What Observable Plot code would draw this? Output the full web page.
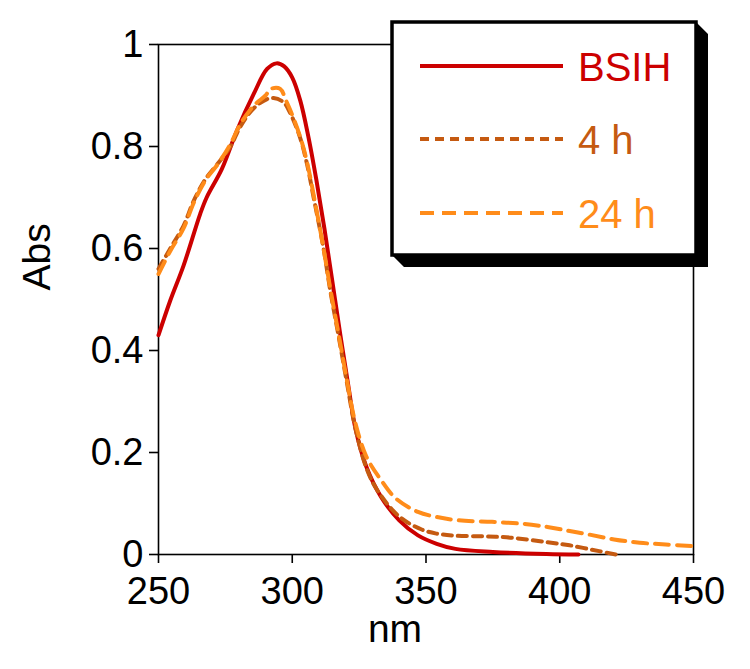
<!DOCTYPE html>
<html>
<head>
<meta charset="utf-8">
<script src="https://cdn.jsdelivr.net/npm/d3@7"></script>
<script src="https://cdn.jsdelivr.net/npm/@observablehq/plot@0.6"></script>
<style>
  html, body { margin: 0; padding: 0; background: white; }
  #chart svg { display: block; }
</style>
</head>
<body>
<div id="chart"></div>
<script>
// ---- data ----
const seriesNames = ["BSIH", "4 h", "24 h"];
const seriesColors = ["#cc0000", "#c55a11", "#ff8c1a"];

const bsihWl  = [250, 254.4, 259.4, 265.6, 268, 273.7, 279.3, 285.6, 290.6, 294.1, 297, 300, 303, 306, 309, 312, 315, 318, 321, 323.5, 327.7, 333.2, 340, 347, 354, 361, 375, 395, 407];
const bsihAbs = [0.43, 0.498, 0.567, 0.668, 0.70, 0.756, 0.831, 0.903, 0.952, 0.963, 0.957, 0.935, 0.89, 0.82, 0.735, 0.64, 0.535, 0.43, 0.33, 0.25, 0.172, 0.113, 0.067, 0.0375, 0.021, 0.011, 0.005, 0.001, 0];

const h4Wl  = [250, 254.4, 259.4, 263.2, 267.7, 272.1, 276.9, 280.7, 285.6, 290.6, 293, 296.7, 299.2, 302.9, 305.5, 308, 311.7, 314.2, 317.4, 320.5, 323.5, 327.7, 331.8, 340.1, 348.4, 353.9, 360.8, 371.9, 381.6, 395.4, 403.7, 414.7, 421];
const h4Abs = [0.56, 0.60, 0.645, 0.694, 0.737, 0.766, 0.80, 0.84, 0.875, 0.893, 0.895, 0.887, 0.866, 0.818, 0.766, 0.70, 0.60, 0.518, 0.426, 0.335, 0.25, 0.17, 0.126, 0.074, 0.049, 0.041, 0.037, 0.0355, 0.033, 0.024, 0.018, 0.0066, 0];

const h24Wl  = [250, 254.4, 259.4, 263.2, 267.7, 272.1, 276.9, 280.7, 285.6, 290, 292, 295.5, 297.5, 299.2, 302.9, 305.5, 308, 311.7, 314.2, 317.4, 320.5, 323.5, 327.7, 333.2, 338.7, 347, 353.9, 362.2, 374.7, 385.7, 395.4, 403.7, 410.6, 420.3, 429.9, 439.6, 450];
const h24Abs = [0.55, 0.595, 0.64, 0.69, 0.735, 0.765, 0.805, 0.845, 0.88, 0.90, 0.913, 0.913, 0.892, 0.872, 0.82, 0.77, 0.705, 0.60, 0.522, 0.43, 0.34, 0.26, 0.192, 0.146, 0.11, 0.0835, 0.0737, 0.067, 0.064, 0.0605, 0.054, 0.046, 0.0395, 0.0296, 0.023, 0.0197, 0.0165];

const xTicks = [250, 300, 350, 400, 450];
const yTicks = [0, 0.2, 0.4, 0.6, 0.8, 1];
const yTickLabels = ["0", "0.2", "0.4", "0.6", "0.8", "1"];
const xLabel = "nm";
const yLabel = "Abs";

// ---- build table ----
const rows = [];
[[bsihWl, bsihAbs], [h4Wl, h4Abs], [h24Wl, h24Abs]].forEach(([wl, ab], s) => {
  wl.forEach((w, i) => rows.push({series: seriesNames[s], wl: w, abs: ab[i]}));
});
const dashes = {"BSIH": null, "4 h": "9,6", "24 h": "14,8"};

const font = "'Liberation Sans', Arial, sans-serif";

const chart = Plot.plot({
  width: 750,
  height: 669,
  marginLeft: 158,
  marginRight: 57,
  marginTop: 44,
  marginBottom: 115,
  style: {fontFamily: font, fontSize: "38px", color: "black", background: "white", overflow: "visible"},
  x: {domain: [250, 450]},
  y: {domain: [0, 1]},
  marks: [
    Plot.frame({stroke: "black", strokeWidth: 1.6}),
    Plot.axisX({ticks: xTicks, tickSize: 9, tickPadding: 14, label: null, strokeWidth: 1.6, fontSize: 38}),
    Plot.axisY({ticks: yTicks, tickFormat: (d) => yTickLabels[yTicks.indexOf(d)], tickSize: 9, tickPadding: 6, label: null, strokeWidth: 1.6, fontSize: 38}),
    ...seriesNames.map((name, s) =>
      Plot.line(rows.filter(r => r.series === name), {
        x: "wl", y: "abs",
        stroke: seriesColors[s], strokeWidth: 4,
        strokeDasharray: dashes[name],
        curve: "catmull-rom"
      })
    ),
    Plot.text([yLabel], {frameAnchor: "left", rotate: -90, dx: -121, dy: -9, lineAnchor: "middle", fontSize: 39, fill: "black"}),
    Plot.text([xLabel], {frameAnchor: "bottom", dx: -31, dy: 75, lineAnchor: "middle", fontSize: 39, fill: "black"})
  ]
});
document.getElementById("chart").appendChild(chart);

// ---- legend box (overlay drawn with d3) ----
const svg = d3.select(chart);
const lg = svg.append("g");
const L = 392, T = 22, R = 696, B = 255, S = 12;
lg.append("polygon")
  .attr("points", `${R},${T} ${R + S},${T + S} ${R + S},${B + S} ${L + S},${B + S} ${L},${B} ${R},${B}`)
  .attr("fill", "black");
lg.append("rect")
  .attr("x", L).attr("y", T).attr("width", R - L).attr("height", B - T)
  .attr("fill", "white").attr("stroke", "black").attr("stroke-width", 3.5);
const entryY = [66, 139, 213];
seriesNames.forEach((name, i) => {
  lg.append("line")
    .attr("x1", 420).attr("x2", 563)
    .attr("y1", entryY[i]).attr("y2", entryY[i])
    .attr("stroke", seriesColors[i]).attr("stroke-width", 4)
    .attr("stroke-dasharray", dashes[name]);
  lg.append("text")
    .attr("x", 578).attr("y", entryY[i] + 15)
    .attr("fill", seriesColors[i])
    .attr("text-anchor", "start")
    .attr("font-family", font).attr("font-size", 40)
    .text(name);
});
</script>
</body>
</html>
